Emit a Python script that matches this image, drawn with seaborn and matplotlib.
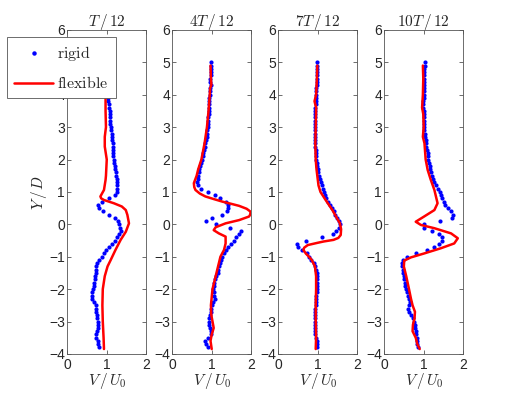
import numpy as np
import pandas as pd
import matplotlib
matplotlib.use("Agg")
import matplotlib.pyplot as plt
import seaborn as sns
from matplotlib.lines import Line2D

sns.set_style("ticks")
plt.rcParams["font.family"] = ["Liberation Sans", "DejaVu Sans"]
plt.rcParams["mathtext.fontset"] = "cm"
plt.rcParams["xtick.direction"] = "in"
plt.rcParams["ytick.direction"] = "in"

# 刚性圆柱：测点 Y/D（5.0 到 -3.8，间隔 0.1）
y_rigid = [5.0, 4.9, 4.8, 4.7, 4.6, 4.5, 4.4, 4.3, 4.2, 4.1,
           4.0, 3.9, 3.8, 3.7, 3.6, 3.5, 3.4, 3.3, 3.2, 3.1,
           3.0, 2.9, 2.8, 2.7, 2.6, 2.5, 2.4, 2.3, 2.2, 2.1,
           2.0, 1.9, 1.8, 1.7, 1.6, 1.5, 1.4, 1.3, 1.2, 1.1,
           1.0, 0.9, 0.8, 0.7, 0.6, 0.5, 0.4, 0.3, 0.2, 0.1,
           0.0, -0.1, -0.2, -0.3, -0.4, -0.5, -0.6, -0.7, -0.8, -0.9,
           -1.0, -1.1, -1.2, -1.3, -1.4, -1.5, -1.6, -1.7, -1.8, -1.9,
           -2.0, -2.1, -2.2, -2.3, -2.4, -2.5, -2.6, -2.7, -2.8, -2.9,
           -3.0, -3.1, -3.2, -3.3, -3.4, -3.5, -3.6, -3.7, -3.8]

rigid_t1 = [1.00, 1.00, 1.01, 1.01, 1.02, 1.02, 1.02, 1.03, 1.03, 1.03,
            1.03, 1.04, 1.04, 1.05, 1.06, 1.07, 1.07, 1.08, 1.09, 1.09,
            1.10, 1.11, 1.12, 1.13, 1.14, 1.15, 1.15, 1.16, 1.17, 1.17,
            1.18, 1.19, 1.21, 1.22, 1.23, 1.24, 1.25, 1.26, 1.27, 1.27,
            1.27, 1.20, 1.05, 0.88, 0.79, 0.80, 0.90, 1.06, 1.22, 1.29,
            1.32, 1.34, 1.35, 1.30, 1.26, 1.20, 1.13, 1.06, 0.99, 0.93,
            0.87, 0.80, 0.76, 0.74, 0.73, 0.72, 0.71, 0.70, 0.68, 0.67,
            0.65, 0.63, 0.62, 0.64, 0.68, 0.72, 0.73, 0.74, 0.75, 0.76,
            0.78, 0.78, 0.77, 0.76, 0.74, 0.74, 0.77, 0.79, 0.80]

rigid_t4 = [0.98, 0.98, 0.97, 0.97, 0.97, 0.96, 0.96, 0.97, 0.96, 0.95,
            0.95, 0.94, 0.94, 0.93, 0.93, 0.92, 0.92, 0.91, 0.91, 0.90,
            0.90, 0.89, 0.88, 0.87, 0.86, 0.84, 0.82, 0.80, 0.79, 0.77,
            0.75, 0.73, 0.71, 0.69, 0.67, 0.66, 0.65, 0.64, 0.66, 0.72,
            0.90, 1.08, 1.22, 1.35, 1.41, 1.42, 1.39, 1.25, 1.00, 0.86,
            1.10, 1.45, 1.73, 1.70, 1.62, 1.55, 1.48, 1.41, 1.35, 1.31,
            1.27, 1.24, 1.21, 1.19, 1.17, 1.15, 1.10, 1.08, 1.06, 1.05,
            1.03, 1.05, 1.07, 1.08, 1.04, 1.00, 0.99, 0.98, 0.96, 0.93,
            0.92, 0.94, 0.95, 0.97, 0.97, 0.90, 0.83, 0.85, 0.90]

rigid_t7 = [0.99, 0.99, 0.98, 0.98, 0.98, 0.97, 0.97, 0.97, 0.96, 0.96,
            0.96, 0.95, 0.95, 0.95, 0.94, 0.94, 0.94, 0.94, 0.93, 0.93,
            0.93, 0.93, 0.92, 0.93, 0.93, 0.94, 0.94, 0.95, 0.95, 0.96,
            0.96, 0.97, 0.98, 1.00, 1.02, 1.03, 1.06, 1.08, 1.10, 1.13,
            1.15, 1.18, 1.22, 1.27, 1.31, 1.35, 1.40, 1.44, 1.49, 1.54,
            1.56, 1.53, 1.47, 1.38, 1.12, 0.70, 0.48, 0.50, 0.60, 0.72,
            0.79, 0.84, 0.90, 0.94, 0.96, 0.97, 0.97, 0.97, 0.97, 0.97,
            0.97, 0.97, 0.96, 0.96, 0.96, 0.95, 0.94, 0.93, 0.93, 0.93,
            0.93, 0.93, 0.92, 0.93, 0.94, 0.96, 0.97, 0.98, 0.99]

rigid_t10 = [1.03, 1.03, 1.02, 1.02, 1.01, 1.01, 1.00, 1.00, 1.00, 1.00,
             1.00, 1.00, 0.99, 0.99, 0.99, 1.00, 1.00, 1.00, 1.00, 1.00,
             1.01, 1.02, 1.03, 1.04, 1.05, 1.06, 1.07, 1.08, 1.10, 1.11,
             1.11, 1.13, 1.15, 1.17, 1.19, 1.21, 1.24, 1.27, 1.31, 1.36,
             1.40, 1.43, 1.46, 1.50, 1.54, 1.62, 1.70, 1.75, 1.72, 1.40,
             1.00, 1.02, 1.20, 1.38, 1.46, 1.45, 1.38, 1.27, 1.08, 0.80,
             0.58, 0.47, 0.45, 0.46, 0.48, 0.49, 0.50, 0.51, 0.52, 0.53,
             0.55, 0.58, 0.60, 0.62, 0.65, 0.63, 0.60, 0.62, 0.67, 0.72,
             0.75, 0.77, 0.78, 0.80, 0.81, 0.82, 0.83, 0.84, 0.85]

# 柔性圆柱
flex_y_t1 = [4.9, 4.5, 4.0, 3.5, 3.0, 2.7, 2.4, 2.0, 1.5, 1.37, 1.06, 0.95, 0.86, 0.8,
             0.75, 0.65, 0.55, 0.44, 0.29, 0.03, -0.23, -0.48, -0.79, -1.1, -1.3,
             -1.6, -2.0, -2.5, -3.0, -3.5, -3.85]
flex_v_t1 = [0.97, 0.98, 0.97, 0.97, 0.98, 0.95, 0.95, 1.0, 0.98, 0.97, 0.93, 0.88, 0.84, 0.86,
             0.93, 1.18, 1.38, 1.48, 1.52, 1.56, 1.48, 1.35, 1.22, 1.10, 1.02,
             0.95, 0.90, 0.89, 0.90, 0.92, 0.93]

flex_y_t4 = [4.9, 4.5, 4.3, 4.2, 4.0, 3.5, 3.0, 2.5, 2.0, 1.7, 1.5, 1.27, 1.15, 1.06, 0.95,
             0.86, 0.78, 0.7, 0.63, 0.57, 0.48, 0.39, 0.3, 0.24, 0.13, 0.03, -0.09,
             -0.18, -0.28, -0.38, -0.59, -0.79, -1.0, -1.5, -2.0, -2.5, -2.8, -3.0,
             -3.2, -3.4, -3.6, -3.85]
flex_v_t4 = [0.97, 0.98, 0.99, 0.96, 0.95, 0.92, 0.88, 0.82, 0.74, 0.66, 0.62, 0.55, 0.56, 0.59, 0.70,
             0.84, 1.05, 1.27, 1.50, 1.69, 1.88, 1.98, 1.97, 1.94, 1.69, 1.35, 1.10,
             1.05, 1.18, 1.35, 1.35, 1.31, 1.22, 1.12, 1.02, 0.98, 0.99, 1.02,
             1.05, 1.00, 0.97, 1.00]

flex_y_t7 = [4.9, 4.5, 4.0, 3.8, 3.6, 3.0, 2.5, 2.0, 1.7, 1.5, 1.2, 1.0, 0.75, 0.44, 0.2,
             0.03, -0.15, -0.33, -0.42, -0.48, -0.53, -0.57, -0.64, -0.72, -0.79, -0.9,
             -1.0, -1.1, -1.3, -1.6, -2.0, -2.5, -3.0, -3.5, -3.85]
flex_v_t7 = [0.99, 0.98, 0.96, 0.92, 0.96, 0.95, 0.94, 0.95, 0.97, 0.99, 1.02, 1.07, 1.20, 1.37, 1.48,
             1.56, 1.59, 1.58, 1.52, 1.40, 1.15, 1.00, 0.75, 0.66, 0.64, 0.70,
             0.78, 0.85, 0.93, 0.96, 0.96, 0.95, 0.95, 0.96, 0.95]

flex_y_t10 = [4.9, 4.5, 4.0, 3.6, 3.4, 3.0, 2.7, 2.5, 2.0, 1.68, 1.37, 1.06, 0.65, 0.44, 0.24,
              0.08, -0.02, -0.12, -0.28, -0.43, -0.59, -0.74, -0.9, -1.02, -1.12, -1.3,
              -1.6, -2.0, -2.3, -2.5, -2.7, -2.9, -3.1, -3.3, -3.5, -3.7, -3.85]
flex_v_t10 = [0.98, 0.99, 0.98, 0.96, 0.99, 1.00, 0.98, 1.02, 1.05, 1.10, 1.18, 1.27, 1.35, 1.27, 1.01,
              0.80, 0.93, 1.27, 1.69, 1.86, 1.77, 1.43, 1.01, 0.68, 0.51, 0.50,
              0.56, 0.63, 0.68, 0.72, 0.78, 0.77, 0.73, 0.72, 0.80, 0.84, 0.90]

titles = ["$T\\,/\\,12$", "$4T\\,/\\,12$", "$7T\\,/\\,12$", "$10T\\,/\\,12$"]
rigid = [rigid_t1, rigid_t4, rigid_t7, rigid_t10]
flex_y = [flex_y_t1, flex_y_t4, flex_y_t7, flex_y_t10]
flex_v = [flex_v_t1, flex_v_t4, flex_v_t7, flex_v_t10]

fig = plt.figure(figsize=(5.12, 3.99), dpi=100)
lefts = [0.131, 0.336, 0.543, 0.750]

for i in range(4):
    ax = fig.add_axes([lefts[i], 0.113, 0.155, 0.812])
    df_r = pd.DataFrame({"V": rigid[i], "Y": y_rigid})
    df_f = pd.DataFrame({"V": flex_v[i], "Y": flex_y[i]})
    sns.scatterplot(data=df_r, x="V", y="Y", ax=ax, color="blue", s=9,
                    linewidth=0, zorder=2)
    sns.lineplot(data=df_f, x="V", y="Y", ax=ax, color="red", lw=1.8,
                 sort=False, estimator=None, zorder=3)
    ax.set_xlim(0, 2)
    ax.set_ylim(-4, 6)
    ax.set_xticks([0, 1, 2])
    ax.set_yticks(range(-4, 7))
    ax.tick_params(labelsize=10, length=3, width=0.6, color="#555555",
                   top=True, right=True, pad=1.5)
    ax.tick_params(axis="x", pad=3)
    for s in ax.spines.values():
        s.set_linewidth(0.6)
        s.set_color("#555555")
    ax.set_title(titles[i], fontsize=11, pad=3)
    ax.set_xlabel("$V\\,/\\,U_0$", fontsize=11, labelpad=-1)
    if i == 0:
        ax.set_ylabel("$Y\\,/\\,D$", fontsize=11, labelpad=0)
    else:
        ax.set_ylabel("")

handles = [Line2D([], [], ls="none", marker="o", ms=2.2, color="blue"),
           Line2D([], [], color="red", lw=1.8)]
leg = fig.legend(handles, ["$\\mathrm{rigid}$", "$\\mathrm{flexible}$"],
                 loc="upper left", bbox_to_anchor=(0.014, 0.907),
                 borderaxespad=0, frameon=True, fancybox=False,
                 framealpha=1, edgecolor="#555555", handlelength=2.4,
                 borderpad=0.45, labelspacing=0.75, handletextpad=0.3,
                 fontsize=11.5)
leg.get_frame().set_linewidth(0.6)
leg.set_zorder(10)

fig.savefig("out.png", dpi=100)
